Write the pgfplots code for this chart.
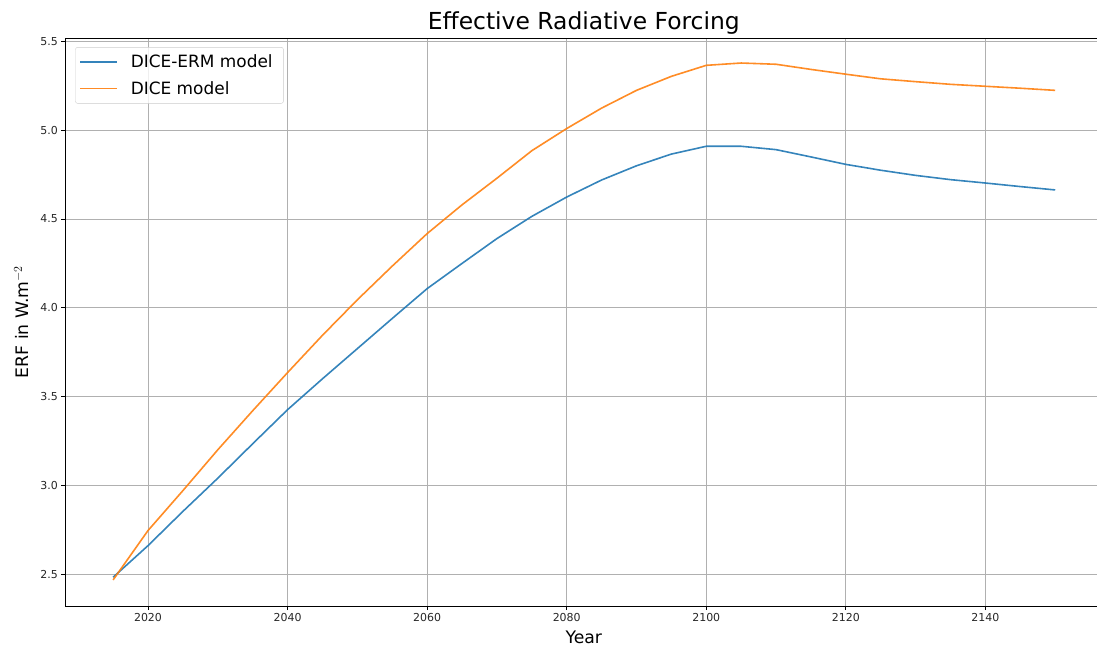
\documentclass[border=0pt]{standalone}
\usepackage{fontspec}
\setmainfont{DejaVu Sans}
\usepackage{pgfplots}
\pgfplotsset{compat=1.18}

\definecolor{mplblue}{HTML}{1F77B4}
\definecolor{mplorange}{HTML}{FF7F0E}
\definecolor{gridgray}{HTML}{B0B0B0}
\definecolor{legendgray}{HTML}{CCCCCC}

\begin{document}
\begin{tikzpicture}
\begin{axis}[
  name=ax,
  scale only axis,
  width=1037bp, height=568bp,
  xmin=2008.15, xmax=2156.75,
  ymin=2.32, ymax=5.52,
  xtick={2020,2040,...,2140},
  ytick={2.5,3.0,...,5.5},
  /pgf/number format/assume math mode=true,
  xticklabel style={/pgf/number format/1000 sep={}},
  yticklabel style={/pgf/number format/.cd, fixed, fixed zerofill, precision=1},
  tick label style={font=\fontsize{11}{13}\selectfont, text=black!85},
  tick align=outside,
  xtick pos=bottom, ytick pos=left,
  major tick length=4bp,
  tick style={black, line width=0.8bp},
  grid=major,
  major grid style={gridgray, line width=0.8bp},
  axis line style={black, line width=0.8bp},
  title={Effective Radiative Forcing},
  title style={font=\fontsize{23.5}{28}\selectfont, at={(axis description cs:0.5,1)}, anchor=base, yshift=3bp},
  xlabel={Year},
  ylabel={ERF in W.m$^{-2}$},
  xlabel style={font=\fontsize{17.3}{20}\selectfont, at={(axis description cs:0.5,0)}, anchor=center, yshift=-31bp},
  ylabel style={font=\fontsize{17.3}{20}\selectfont, at={(axis description cs:-0.0425,0.5)}, anchor=center},
  legend style={at={(axis description cs:0,1)}, anchor=north west, xshift=10bp, yshift=-9.2bp,
    draw=legendgray, fill=white, fill opacity=0.8, text opacity=1,
    rounded corners=2bp, font=\fontsize{17}{20}\selectfont,
    inner xsep=3.7bp, inner ysep=4.6bp, row sep=6bp,
    nodes={inner xsep=7bp, inner ysep=3bp}},
  legend cell align=left,
  legend image code/.code={%
    \draw[#1, line width=1.6bp] (-2bp,0bp) -- (35bp,0bp);
    \path (41bp,0bp);},
  every axis plot/.append style={line width=1.6bp},
]
\addplot[mplblue, opacity=0.9] coordinates {
  (2015,2.482) (2020,2.660) (2025,2.853) (2030,3.040) (2035,3.234)
  (2040,3.426) (2045,3.600) (2050,3.770) (2055,3.940) (2060,4.108)
  (2065,4.250) (2070,4.390) (2075,4.515) (2080,4.624) (2085,4.720)
  (2090,4.800) (2095,4.866) (2100,4.910) (2105,4.910) (2110,4.891)
  (2115,4.850) (2120,4.808) (2125,4.775) (2130,4.746) (2135,4.722)
  (2140,4.703) (2145,4.683) (2150,4.664)
};
\addlegendentry{DICE-ERM model}
\addplot[mplorange, opacity=0.9] coordinates {
  (2015,2.467) (2020,2.745) (2025,2.970) (2030,3.200) (2035,3.420)
  (2040,3.635) (2045,3.845) (2050,4.045) (2055,4.235) (2060,4.418)
  (2065,4.580) (2070,4.730) (2075,4.885) (2080,5.010) (2085,5.125)
  (2090,5.225) (2095,5.304) (2100,5.366) (2105,5.379) (2110,5.372)
  (2115,5.343) (2120,5.316) (2125,5.290) (2130,5.274) (2135,5.259)
  (2140,5.248) (2145,5.237) (2150,5.225)
};
\addlegendentry{DICE model}
\end{axis}
\pgfresetboundingbox
\path ([xshift=-65.3bp,yshift=-41.7bp]ax.south west) rectangle ([xshift=-5.3bp,yshift=38bp]ax.north east);
\end{tikzpicture}
\end{document}
